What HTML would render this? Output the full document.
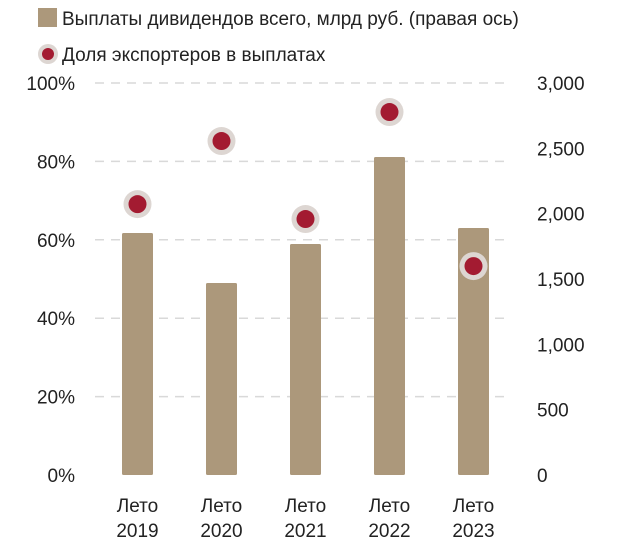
<!DOCTYPE html>
<html><head><meta charset="utf-8"><style>
body{margin:0;background:#fff;font-family:"Liberation Sans","DejaVu Sans",sans-serif;}
</style></head><body>
<svg id="c" width="620" height="551" xmlns="http://www.w3.org/2000/svg" font-family="Liberation Sans, DejaVu Sans, sans-serif">
<g>
<rect x="38" y="8" width="19" height="19" fill="#ac987b"/>
<text x="62" y="25" font-size="19" fill="#222">Выплаты дивидендов всего, млрд руб. (правая ось)</text>
<circle cx="48" cy="54" r="10" fill="#ddd6d2"/>
<circle cx="48" cy="54" r="6" fill="#a31b31"/>
<text x="62" y="61" font-size="19" fill="#222">Доля экспортеров в выплатах</text>
</g>
<g id="grid"></g><g id="bars"></g><g id="dots"></g><g id="axes"></g>
</svg>
<script>
const categories=["Лето|2019","Лето|2020","Лето|2021","Лето|2022","Лето|2023"];
const dividends=[1852,1469,1768,2434,1890];
const exporterShare=[69.1,85.2,65.3,92.6,53.3];
const leftTicks=[0,20,40,60,80,100];
const rightTicks=[0,500,1000,1500,2000,2500,3000];
const NS="http://www.w3.org/2000/svg";
const plotTop=83,plotBot=475,x0=137.5,step=84,bw=31;
const yL=v=>plotBot-(v/100)*(plotBot-plotTop);
const yR=v=>plotBot-(v/3000)*(plotBot-plotTop);
const xC=i=>x0+i*step;
function mk(tag,attrs,parent){const e=document.createElementNS(NS,tag);for(const k in attrs)e.setAttribute(k,attrs[k]);document.getElementById(parent).appendChild(e);return e;}
leftTicks.forEach(t=>{
 if(t>0){const l=mk('line',{x1:95,x2:508,y1:yL(t),y2:yL(t),stroke:'#d9d9d9','stroke-width':1.5,'stroke-dasharray':'9,7'},'grid');
 
 }
 const tx=mk('text',{x:75,y:yL(t)+7,'text-anchor':'end','font-size':19,fill:'#222'},'axes');tx.textContent=t+'%';
 
 
});
rightTicks.forEach(t=>{
 const tx=mk('text',{x:537,y:yR(t)+7,'font-size':19,fill:'#222'},'axes');tx.textContent=t.toLocaleString('en-US');
 
 
});
categories.forEach((c,i)=>{
 const p=c.split('|');
 [0,1].forEach(j=>{const tx=mk('text',{x:xC(i),y:512+j*25,'text-anchor':'middle','font-size':19,fill:'#222'},'axes');tx.textContent=p[j];
 
 });
});
dividends.forEach((v,i)=>{
 const r=mk('rect',{x:xC(i)-bw/2,y:yR(v),width:bw,height:plotBot-yR(v),fill:'#ac987b',rx:1.5},'bars');
 
 
});
exporterShare.forEach((v,i)=>{
 const h=mk('circle',{cx:xC(i),cy:yL(v),r:14,fill:'#ddd6d2'},'dots');
 
 
 const d=mk('circle',{cx:xC(i),cy:yL(v),r:9,fill:'#a31b31'},'dots');
 
 
});
</script>
</body></html>
